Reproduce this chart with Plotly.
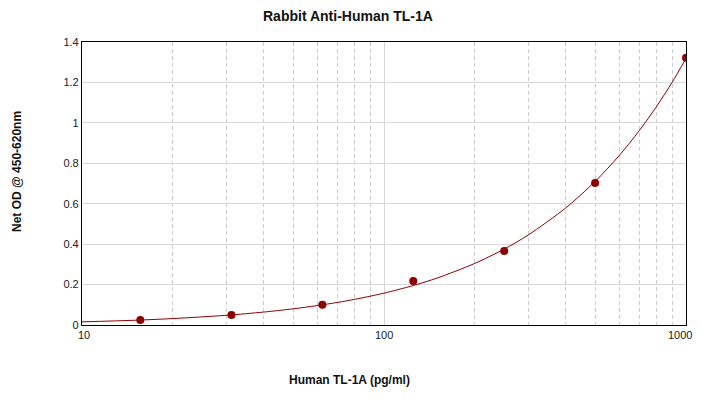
import math
import plotly.graph_objects as go

# Standard points (concentration pg/ml, Net OD)
conc = [15.6, 31.25, 62.5, 125, 250, 500, 1000]
od = [0.025, 0.050, 0.100, 0.218, 0.366, 0.702, 1.322]

# Fitted curve, values
curve_x = [10, 15, 20, 30, 40, 50, 60, 70, 80, 100, 125, 150, 200, 250, 300, 400, 500, 600, 700, 800, 900, 1000]
curve_y = [0.0155, 0.0236, 0.0318, 0.048, 0.064, 0.080, 0.0958, 0.1114, 0.1269, 0.1575, 0.1952, 0.2323,
           0.3049, 0.3756, 0.4448, 0.5796, 0.7099, 0.837, 0.961, 1.0824, 1.201, 1.3183]

x_major = [10, 100, 1000]
x_major_labels = ["10", "100", "1000"]
x_minor = [20, 30, 40, 50, 60, 70, 80, 90, 200, 300, 400, 500, 600, 700, 800, 900]
y_ticks = [0, 0.2, 0.4, 0.6, 0.8, 1.0, 1.2, 1.4]
y_labels = ["0", "0.2", "0.4", "0.6", "0.8", "1", "1.2", "1.4"]

title = "Rabbit Anti-Human TL-1A"
x_title = "Human TL-1A (pg/ml)"
y_title = "Net OD @ 450-620nm"

RED = "#8f0000"
FONT = "Liberation Sans, Arial, sans-serif"

# page body has an 8px margin; figure is sized to fit the window
OFF = 8
W, H = 704 - OFF, 399 - OFF
L, R, T, B = 82 - OFF, 704 - 686, 42 - OFF, 399 - 325
pw, ph = W - L - R, H - T - B


def paper_x(px):
    return (px - OFF - L) / pw


def paper_y(py):
    return 1 - (py - OFF - T) / ph


fig = go.Figure()
fig.add_trace(go.Scatter(x=curve_x, y=curve_y, mode="lines",
                         line=dict(color=RED, width=1, shape="spline", smoothing=0.8),
                         hoverinfo="skip", showlegend=False))
fig.add_trace(go.Scatter(x=conc, y=od, mode="markers",
                         marker=dict(color=RED, size=8, line=dict(width=0)),
                         showlegend=False))

annotations = [
    dict(text="<b>" + title + "</b>", x=paper_x(348), y=paper_y(16), xref="paper", yref="paper",
         xanchor="center", yanchor="middle", showarrow=False,
         font=dict(family=FONT, size=14, color="#111")),
    dict(text="<b>" + x_title + "</b>", x=paper_x(349), y=paper_y(380), xref="paper", yref="paper",
         xanchor="center", yanchor="middle", showarrow=False,
         font=dict(family=FONT, size=12, color="#111")),
    dict(text="<b>" + y_title + "</b>", x=paper_x(17), y=paper_y(172), xref="paper", yref="paper",
         xanchor="center", yanchor="middle", showarrow=False, textangle=-90,
         font=dict(family=FONT, size=12, color="#111")),
]
# x tick labels, slightly offset as in the reference
x_label_shift = [2, 0, -6]
for v, t, s in zip(x_major, x_major_labels, x_label_shift):
    annotations.append(dict(text=t, x=math.log10(v), y=0, xref="x", yref="paper",
                            xanchor="center", yanchor="middle", yshift=-10, xshift=s,
                            showarrow=False, font=dict(family=FONT, size=11, color="#222")))

fig.update_layout(
    width=W, height=H,
    margin=dict(l=L, r=R, t=T, b=B),
    paper_bgcolor="white", plot_bgcolor="white",
    font=dict(family=FONT, size=11, color="#222"),
    showlegend=False,
    annotations=annotations,
)

fig.update_xaxes(
    type="log", range=[1, 3],
    tickmode="array", tickvals=x_major, ticktext=x_major_labels, showticklabels=False,
    showgrid=True, gridcolor="#d4d4d4", gridwidth=1,
    showline=True, linecolor="black", linewidth=1.2, mirror=True,
    ticks="", zeroline=False,
    minor=dict(tickmode="array", tickvals=x_minor, showgrid=True,
               gridcolor="#cccccc", griddash="4px,3px", gridwidth=1, ticks=""),
)
fig.update_yaxes(
    range=[0, 1.4],
    tickmode="array", tickvals=y_ticks, ticktext=y_labels,
    showgrid=True, gridcolor="#d9d9d9", gridwidth=1,
    showline=True, linecolor="black", linewidth=1.2, mirror=True,
    ticks="", zeroline=False,
    tickfont=dict(size=11, color="#222"),
)

fig.write_html("out.html")
